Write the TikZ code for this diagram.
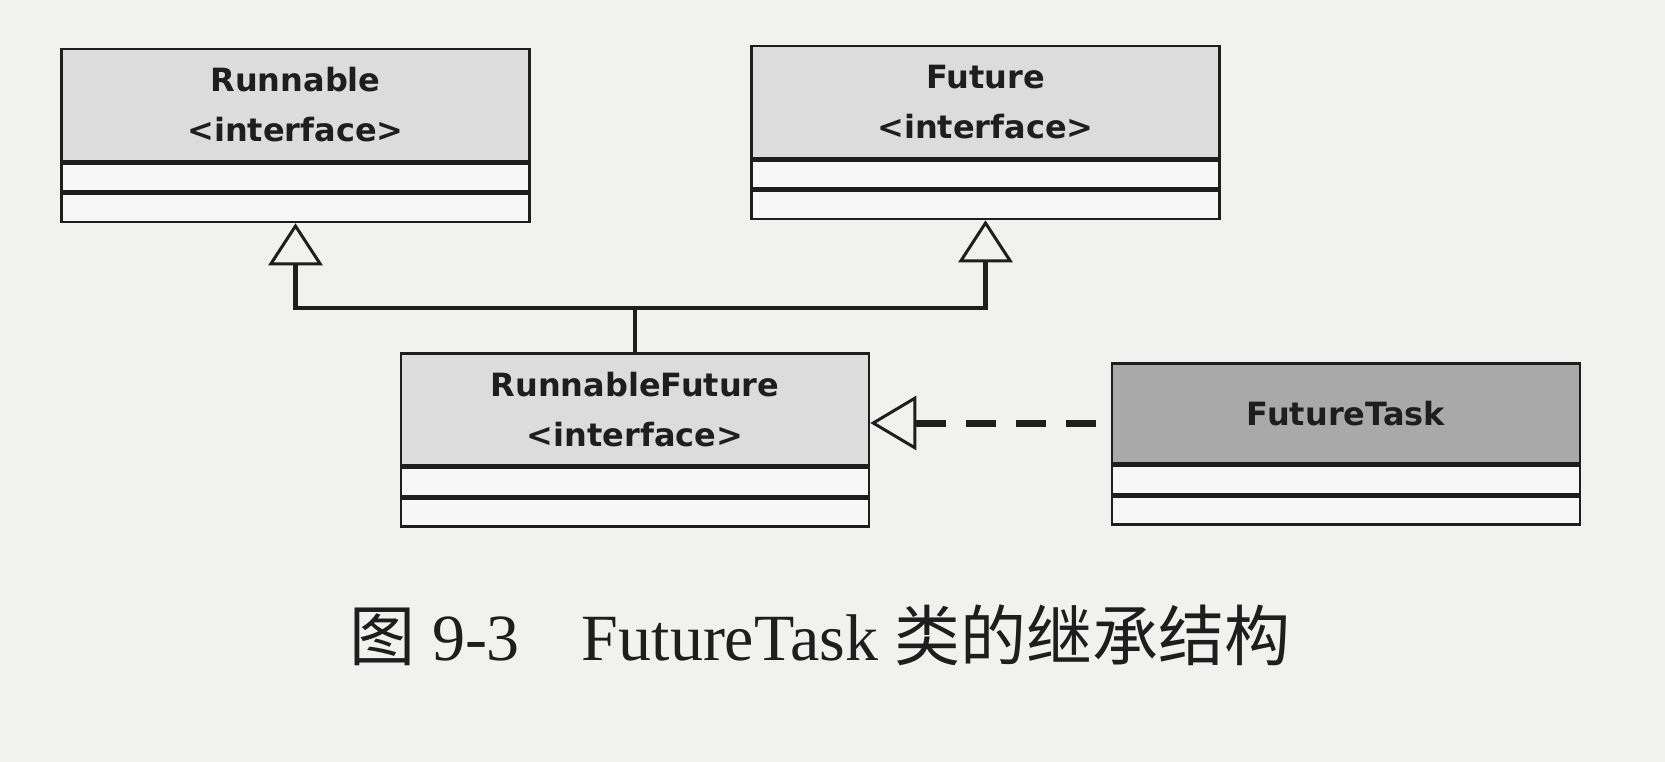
\documentclass[tikz,border=0pt]{standalone}
\usepackage{fontspec}
\setmainfont{Liberation Serif}
\newfontfamily\cjk{Noto Sans CJK SC}
\newfontfamily\umlfont{DejaVu Sans}
\usepackage{tikz}
\usetikzlibrary{arrows.meta,positioning}
\definecolor{paper}{HTML}{F1F1F0}
\definecolor{ink}{HTML}{1E1E1E}
\definecolor{headfill}{HTML}{DCDCDC}
\definecolor{darkfill}{HTML}{A9A9A9}
\definecolor{slotfill}{HTML}{F7F7F7}

\begin{document}
\begin{tikzpicture}[
  x=1pt,y=1pt,
  head/.style={draw=ink,line width=2.5pt,fill=headfill,minimum width=468pt,minimum height=112pt,
    inner sep=0pt,align=center,text=ink,font=\umlfont\bfseries\fontsize{32}{50}\selectfont},
  slot/.style={draw=ink,line width=2.5pt,fill=slotfill,minimum width=468pt,minimum height=28pt,inner sep=0pt},
  gen/.style={-{Triangle[open,length=42pt,width=54pt,line width=3pt]},line width=4.5pt,draw=ink},
  real/.style={{Triangle[open,length=46pt,width=54pt,line width=3pt]}-,line width=7pt,draw=ink,
    dash pattern=on 30pt off 20pt}
]
\fill[paper] (0,0) rectangle (1665,-762);
\useasboundingbox (0,0) rectangle (1665,-762);
% classes
\node[head] (run) at (295.5,-105) {Runnable\\<interface>};
\node[slot,below=0pt of run] (run1) {};
\node[slot,below=0pt of run1] (run2) {};
\node[head] (fut) at (985.5,-102) {Future\\<interface>};
\node[slot,below=0pt of fut] (fut1) {};
\node[slot,below=0pt of fut1] (fut2) {};
\node[head] (rf) at (635,-409.5) {RunnableFuture\\<interface>};
\node[slot,below=0pt of rf] (rf1) {};
\node[slot,below=0pt of rf1] (rf2) {};
\node[head,fill=darkfill,minimum height=100pt] (ft) at (1346,-413.5) {FutureTask};
\node[slot,below=0pt of ft] (ft1) {};
\node[slot,below=0pt of ft1] (ft2) {};
% relations
\coordinate (bus) at (635,-308);
\draw[gen] (rf.north) -- (bus) -| (run2.south);
\draw[gen] (bus) -| (fut2.south);
\draw[real] (rf.east |- 0,-423) -- (ft.west |- 0,-423);
% caption
\node[text=ink,font=\fontsize{66}{78}\selectfont] (cap) at (820,-635)
  {{\cjk 图} 9-3\hspace{62pt}FutureTask {\cjk 类的继承结构}};
\end{tikzpicture}
\end{document}
